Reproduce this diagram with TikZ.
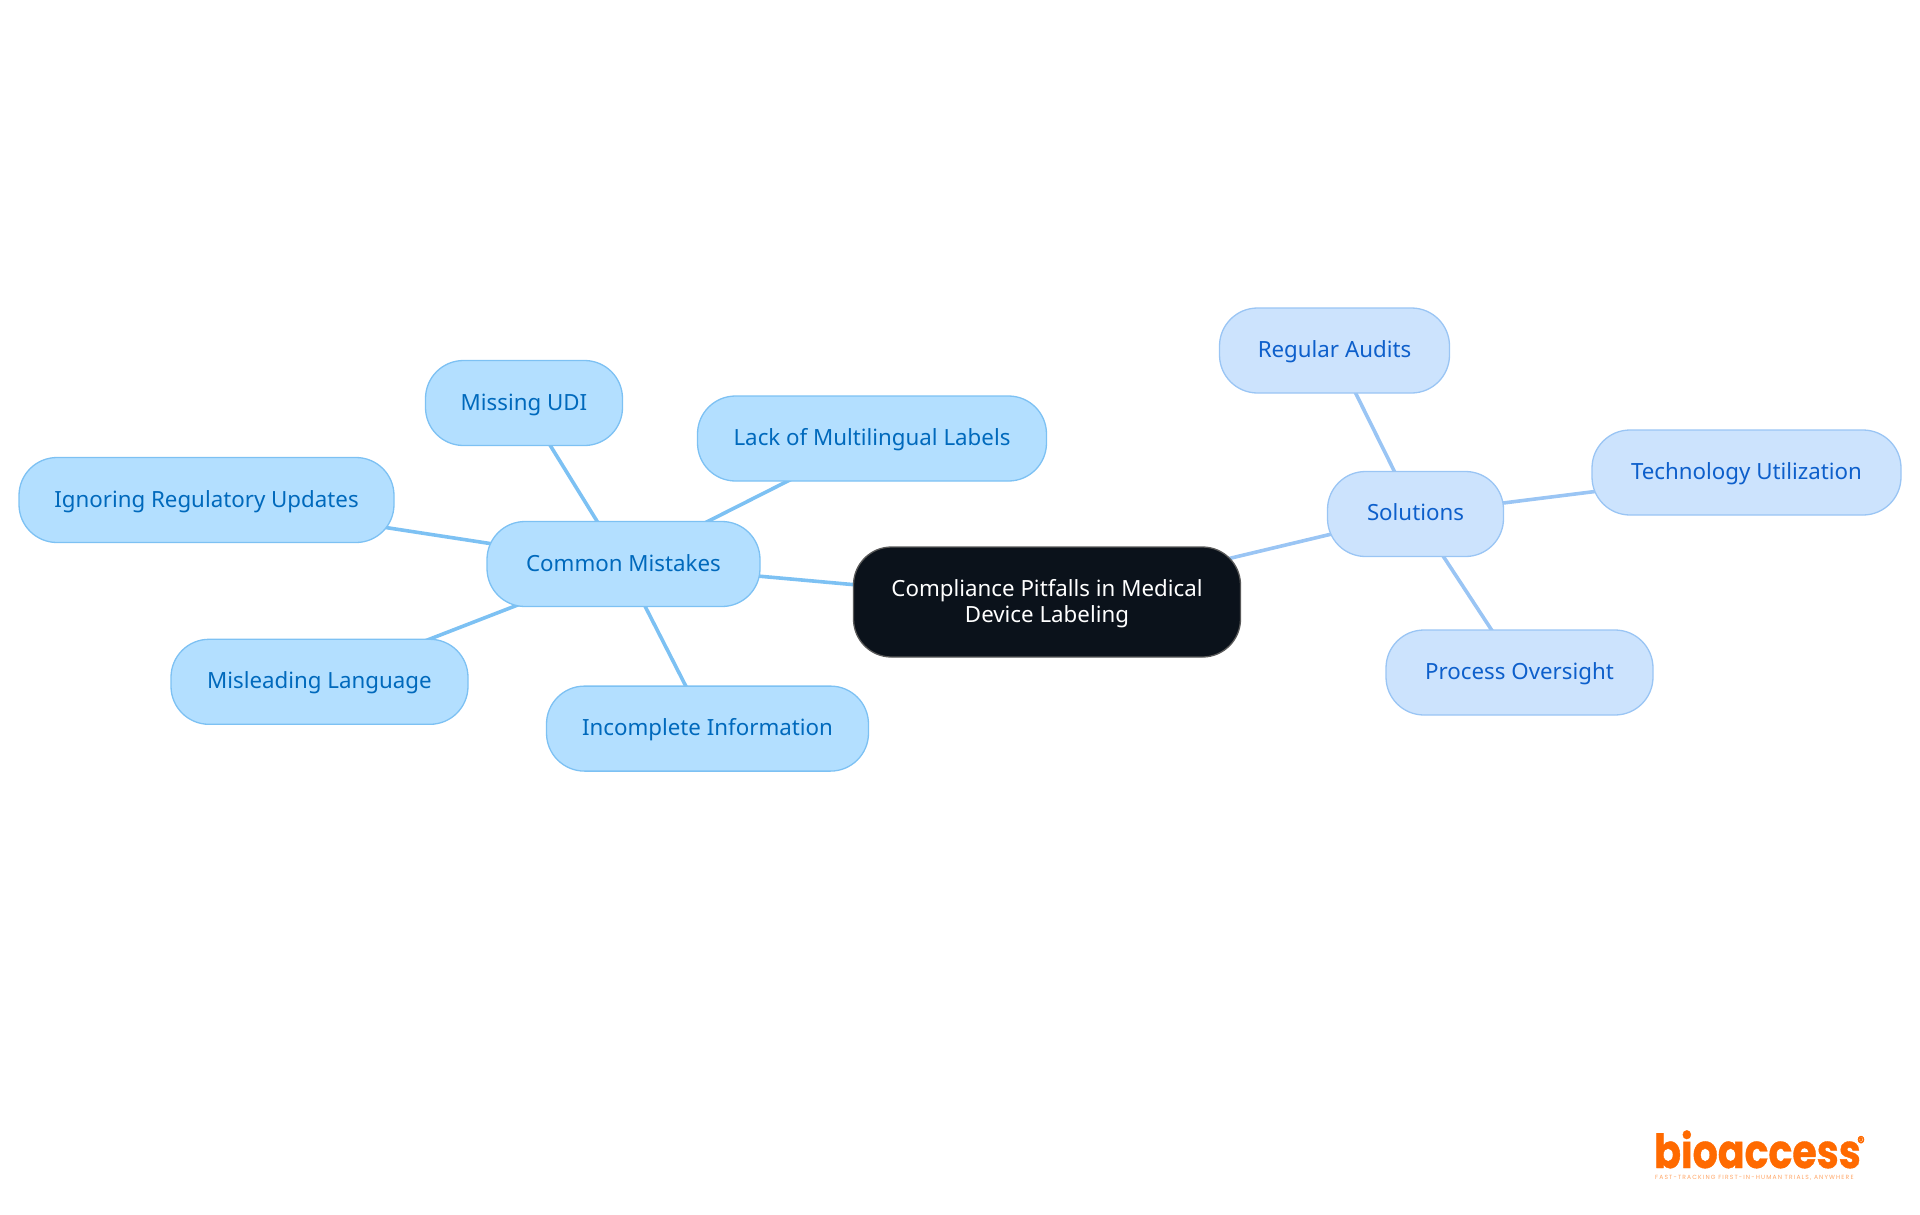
\documentclass[tikz,border=0pt]{standalone}
\usepackage{fontspec}
\setmainfont{Noto Sans}
\newfontfamily\logofont[FakeStretch=0.84,BoldFeatures={FakeBold=0.8}]{Poppins}
\newfontfamily\tagfont[LetterSpace=19]{Poppins}
\usetikzlibrary{backgrounds}
\definecolor{skyfill}{HTML}{B3DFFF}
\definecolor{skyline}{HTML}{7DC1F3}
\definecolor{skytext}{HTML}{0069BC}
\definecolor{bluefill}{HTML}{CCE3FD}
\definecolor{blueline}{HTML}{9AC5F4}
\definecolor{bluetext}{HTML}{0D5FCB}
\definecolor{rootfill}{HTML}{0B121B}
\definecolor{logoorange}{HTML}{FF6A00}
\tikzset{
  x=1pt,y=-1pt,
  boxbase/.style={rectangle,rounded corners=38pt,inner sep=0pt,line width=1.3pt,minimum height=85pt,align=center,font=\fontsize{22.3}{25.7}\selectfont},
  skybox/.style={boxbase,text height=20pt,text depth=6pt,fill=skyfill,draw=skyline,text=skytext},
  bluebox/.style={boxbase,text height=19.5pt,text depth=6.5pt,fill=bluefill,draw=blueline,text=bluetext},
  rootbox/.style={boxbase,fill=rootfill,draw=gray!70!black,text=white,minimum height=110pt,rounded corners=38pt},
  skyedge/.style={draw=skyline,line width=3.6pt},
  blueedge/.style={draw=blueline,line width=3.6pt},
}
\begin{document}
\begin{tikzpicture}
\useasboundingbox (0,0) rectangle (1920,1215);
\node[rootbox,minimum width=387pt] (root) at (1047,602) {\rule{0pt}{20pt}Compliance Pitfalls in Medical\\Device Labeling};
\node[skybox,minimum width=273pt] (common) at (623.5,564) {Common Mistakes};
\node[skybox,minimum width=197pt] (udi) at (524,403) {Missing UDI};
\node[skybox,minimum width=349pt] (multi) at (872,438.5) {Lack of Multilingual Labels};
\node[skybox,minimum width=375pt] (ignore) at (206.5,500) {Ignoring Regulatory Updates};
\node[skybox,minimum width=297pt] (mislead) at (319.5,681.8) {Misleading Language};
\node[skybox,minimum width=322pt] (incomplete) at (707.5,728.6) {Incomplete Information};
\node[bluebox,minimum width=176pt] (sol) at (1415.5,514) {Solutions};
\node[bluebox,minimum width=230pt] (audit) at (1334.5,350.5) {Regular Audits};
\node[bluebox,minimum width=309pt] (tech) at (1746.5,472.5) {Technology Utilization};
\node[bluebox,minimum width=267pt] (process) at (1519.5,672.5) {Process Oversight};
\begin{scope}[on background layer]
\draw[skyedge] (root.center) -- (common.center);
\draw[skyedge] (common.center) -- (udi.center);
\draw[skyedge] (common.center) -- (multi.center);
\draw[skyedge] (common.center) -- (ignore.center);
\draw[skyedge] (common.center) -- (mislead.center);
\draw[skyedge] (common.center) -- (incomplete.center);
\draw[blueedge] (root.center) -- (sol.center);
\draw[blueedge] (sol.center) -- (audit.center);
\draw[blueedge] (sol.center) -- (tech.center);
\draw[blueedge] (sol.center) -- (process.center);
\end{scope}
\node[anchor=base west,inner sep=0pt,text depth=0pt,text=logoorange,font={\logofont\bfseries\fontsize{47}{47}\selectfont}] (logo) at (1654,1168) {bioaccess};
\node[inner sep=0pt,text=logoorange,font={\logofont\bfseries\fontsize{17}{17}\selectfont}] (reg) at (1861,1142) {®};
\node[anchor=base west,inner sep=0pt,text height=4pt,text depth=0pt,text=logoorange!60,font={\tagfont\fontsize{6}{6}\selectfont}] (tagline) at (1655,1179) {FAST-TRACKING FIRST-IN-HUMAN TRIALS, ANYWHERE};
\end{tikzpicture}
\end{document}
